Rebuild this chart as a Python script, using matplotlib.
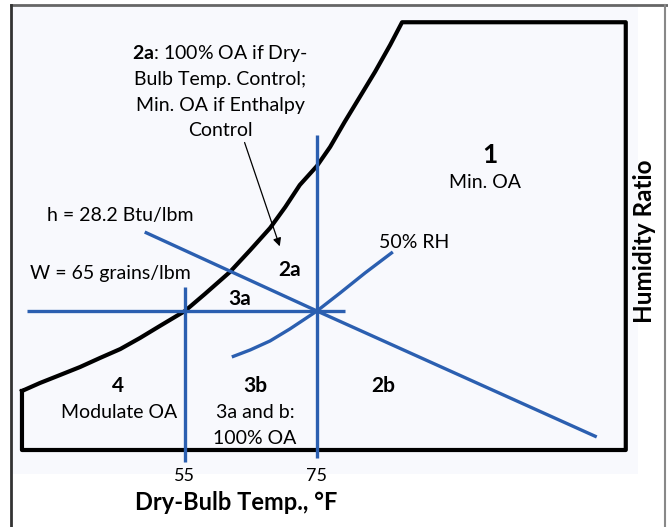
import matplotlib
matplotlib.use("Agg")
import matplotlib.pyplot as plt
from matplotlib.patches import Rectangle

plt.rcParams["font.family"] = ["Lato", "DejaVu Sans"]
plt.rcParams["mathtext.fontset"] = "custom"
plt.rcParams["mathtext.bf"] = "Lato:bold"
plt.rcParams["mathtext.rm"] = "Lato"

# values: dry-bulb temp (F) and humidity ratio (grains/lbm)
sat_temp = [30.3, 33.0, 36.1, 39.1, 42.1, 45.2, 48.2, 51.2, 55.0, 58.0, 61.8,
            64.9, 67.9, 70.2, 72.4, 75.0, 77.0, 79.2, 81.5, 83.8, 86.1, 87.9]
sat_w = [27.6, 31.3, 35.1, 38.8, 43.0, 47.2, 52.4, 58.0, 65.0, 72.9, 83.2,
         93.5, 103.8, 113.6, 123.9, 132.8, 141.7, 153.4, 165.1, 176.8, 189.4, 200.0]
box_right_temp = 121.8
box_top_w = 200.0

rh50_temp = [62.1, 64.9, 67.9, 70.9, 75.0, 78.5, 82.3, 86.5]
rh50_w = [43.5, 46.8, 51.0, 56.6, 65.0, 73.4, 82.8, 92.6]

enth_temp = [48.9, 75.0, 117.4]
enth_w = [101.9, 65.0, 6.1]

w_line_temp = [31.1, 79.2]
w_line_w = [65.0, 65.0]

db55_temp = [55.0, 55.0]
db55_w = [76.2, -5.6]
db75_temp = [75.0, 75.0]
db75_w = [147.3, -3.7]

arrow_start = (63.9, 145.0)
arrow_end = (69.5, 94.0)

tick_temps = [55, 75]

W_PX, H_PX = 668, 527
BLUE = "#2b5fb0"


def px(x, y):
    # pixel position in the picture -> figure fraction
    return x / W_PX, 1 - y / H_PX


fig = plt.figure(figsize=(6.68, 5.27), dpi=100)
fig.patch.set_facecolor("white")

# light panel and outer frame, drawn in a background axes
bg = fig.add_axes([0, 0, 1, 1], zorder=0)
bg.set_xlim(0, W_PX)
bg.set_ylim(H_PX, 0)
bg.axis("off")
bg.add_patch(Rectangle((12, 6), 626, 468, facecolor="#f8f9fd", edgecolor="none"))
bg.plot([11, W_PX], [5, 5], color="#666666", lw=2)
bg.plot([11, 11], [5, H_PX], color="#333333", lw=2)
bg.plot([665, 665], [5, H_PX], color="#888888", lw=1.5)

ax = fig.add_axes([0, 0, 1, 1], zorder=1)
ax.set_xlim(26.97, 128.2)
ax.set_ylim(-36.0, 210.4)
ax.axis("off")
ax.patch.set_alpha(0)

# chart outline: saturation curve + box
outline_t = sat_temp + [box_right_temp, box_right_temp, sat_temp[0], sat_temp[0]]
outline_w = sat_w + [box_top_w, 0, 0, sat_w[0]]
ax.plot(outline_t, outline_w, color="black", lw=3, solid_joinstyle="round", zorder=3)

for t, w in [(w_line_temp, w_line_w), (db55_temp, db55_w), (db75_temp, db75_w),
             (enth_temp, enth_w), (rh50_temp, rh50_w)]:
    ax.plot(t, w, color=BLUE, lw=2.4, solid_capstyle="butt", zorder=4)

ax.annotate("", xy=arrow_end, xytext=arrow_start,
            arrowprops=dict(arrowstyle="-|>", color="black", lw=0.9, mutation_scale=12), zorder=5)

for t in tick_temps:
    ax.text(t, -8.5, str(t), ha="center", va="top", fontsize=13)

fs = 14
text_kw = dict(transform=fig.transFigure, ha="center", va="center", fontsize=fs, zorder=6)
fig.text(*px(220, 53), r"$\mathbf{2a}$: 100% OA if Dry-", **text_kw)
fig.text(*px(220, 79), "Bulb Temp. Control;", **text_kw)
fig.text(*px(220, 105), "Min. OA if Enthalpy", **text_kw)
fig.text(*px(220, 130), "Control", **text_kw)

fig.text(*px(490, 155), "1", fontweight="bold", **{**text_kw, "fontsize": 19})
fig.text(*px(485, 183), "Min. OA", **text_kw)
fig.text(*px(120, 215), "h = 28.2 Btu/lbm", **text_kw)
fig.text(*px(414, 242), "50% RH", **text_kw)
fig.text(*px(110, 273), "W = 65 grains/lbm", **text_kw)
fig.text(*px(290, 270), "2a", fontweight="bold", **{**text_kw, "fontsize": 15})
fig.text(*px(240, 299), "3a", fontweight="bold", **{**text_kw, "fontsize": 15})
fig.text(*px(118, 386), "4", fontweight="bold", **{**text_kw, "fontsize": 15})
fig.text(*px(119, 413), "Modulate OA", **text_kw)
fig.text(*px(255, 386), "3b", fontweight="bold", **{**text_kw, "fontsize": 15})
fig.text(*px(255, 413), "3a and b:", **text_kw)
fig.text(*px(255, 438), "100% OA", **text_kw)
fig.text(*px(383, 386), "2b", fontweight="bold", **{**text_kw, "fontsize": 15})

fig.text(*px(236, 503), "Dry-Bulb Temp., °F", fontweight="bold", **{**text_kw, "fontsize": 17})
fig.text(*px(645, 241), "Humidity Ratio", fontweight="bold", rotation=90,
         **{**text_kw, "fontsize": 17.5})

fig.savefig("out.png", dpi=100)
